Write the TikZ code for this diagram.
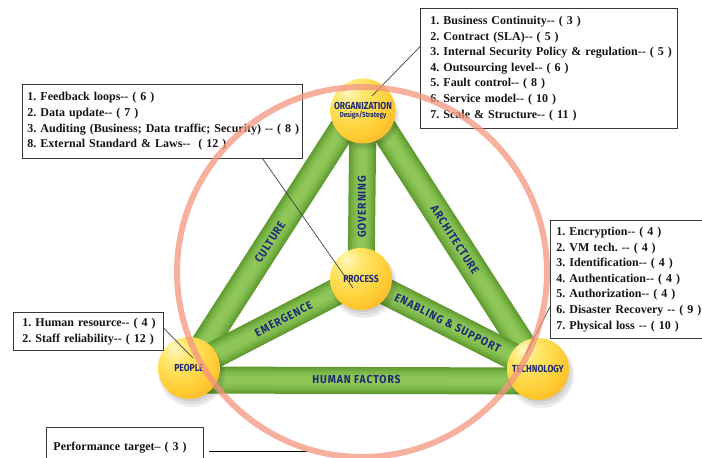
\documentclass[tikz,border=0pt]{standalone}
\usepackage{fontspec}
\setmainfont{Liberation Serif}
\newfontfamily\barfont[FakeStretch=0.9,LetterSpace=8]{Fira Sans}
\newfontfamily\ballfont[FakeStretch=0.84]{Fira Sans}
\usetikzlibrary{calc}

\definecolor{navy}{RGB}{30,42,118}
\definecolor{ringred}{RGB}{244,148,126}
\definecolor{barLo}{RGB}{92,152,44}
\definecolor{barHi}{RGB}{146,202,92}
\definecolor{boxline}{RGB}{55,55,55}
\definecolor{txt}{RGB}{20,20,20}

% yellow-orange sphere, highlight towards the upper left
\pgfdeclareradialshading{sunball}{\pgfpoint{-12bp}{16bp}}{%
  rgb(0bp)=(1,0.97,0.76);
  rgb(12bp)=(1,0.90,0.40);
  rgb(30bp)=(1,0.80,0.20);
  rgb(50bp)=(0.97,0.64,0.12);
  rgb(64bp)=(0.95,0.57,0.10);
  rgb(100bp)=(0.95,0.57,0.10)}

\pgfdeclarelayer{bars}
\pgfdeclarelayer{shadows}
\pgfsetlayers{bars,shadows,main}

% one unbreakable line of a list
\newcommand\entry[1]{\mbox{#1}}

\tikzset{
  ball/.style={circle, minimum size=62pt, inner sep=0pt, shade, shading=sunball,
    text=navy, font=\ballfont\bfseries\fontsize{10.2}{10}\selectfont, align=center},
  barlbl/.style={text=navy, font=\barfont\bfseries\fontsize{11.5}{12}\selectfont, inner sep=0pt},
  infobox/.style={draw=boxline, line width=0.9pt, anchor=north west, align=left,
    text=txt, inner ysep=0pt, font=\frenchspacing\bfseries\fontsize{12}{15.6}\selectfont},
  pointer/.style={draw=black!75, line width=0.7pt},
  ring/.style={draw=ringred, line width=6pt, opacity=0.75},
}

% a green tube between two points, lighter along its middle
\newcommand\greenbar[2]{%
  \foreach \w/\m in {27/0,25/18,22/36,19/52,16/66,12/80,8/92}{%
    \draw[barHi!\m!barLo, line width=\w pt] #1 -- #2;}}

\begin{document}
\begin{tikzpicture}[x=1pt, y=-1pt]
\useasboundingbox (0,0) rectangle (702,458);

% the four spheres
\node[ball, minimum size=65pt] (org) at (363,111)
  {ORGANIZATION\\[-2pt]{\fontsize{7.4}{7.5}\selectfont Design/Strategy}};
\node[ball] (proc)   at (361,279) {PROCESS};
\node[ball] (people) at (189,368) {PEOPLE};
\node[ball] (tech)   at (538,369) {TECHNOLOGY};

% soft shadows under the spheres
\begin{pgfonlayer}{shadows}
  \foreach \b in {org,proc,people,tech}{
    \fill[black, opacity=0.07] ([xshift=3pt,yshift=-6pt]\b.center) circle (33pt);
    \fill[black, opacity=0.07] ([xshift=3pt,yshift=-5pt]\b.center) circle (31pt);
    \fill[black, opacity=0.07] ([xshift=2pt,yshift=-4pt]\b.center) circle (29pt);
  }
\end{pgfonlayer}

% the tubes joining them
\begin{pgfonlayer}{bars}
  \greenbar{(people.center)}{([xshift=-9pt]org.center)}
  \greenbar{([xshift=9pt]org.center)}{(tech.center)}
  \greenbar{(org.center)}{(proc.center)}
  \greenbar{(people.center)}{(proc.center)}
  \greenbar{(proc.center)}{(tech.center)}
  \greenbar{([yshift=-12pt]people.center)}{([yshift=-12pt]tech.center)}
\end{pgfonlayer}

% tube labels
\path (people.center) -- node[barlbl, sloped, pos=0.49] {CULTURE} ([xshift=-9pt]org.center);
\path ([xshift=9pt]org.center) -- node[barlbl, sloped, pos=0.5] {ARCHITECTURE} (tech.center);
\path (org.center) -- node[barlbl, pos=0.57, rotate=90] {GOVERNING} (proc.center);
\path (people.center) -- node[barlbl, sloped, pos=0.55] {EMERGENCE} (proc.center);
\path (proc.center) -- node[barlbl, sloped, pos=0.49] {ENABLING \& SUPPORT} (tech.center);
\path ([yshift=-12pt]people.center) -- node[barlbl, pos=0.48, yshift=1pt] {HUMAN FACTORS} ([yshift=-12pt]tech.center);

% lists of factors
\node[infobox, inner xsep=10pt, text width=237pt, minimum height=120pt] (orgbox) at (420,8) {%
  \entry{1. Business Continuity-{}- ( 3 )}\\
  \entry{2. Contract (SLA)-{}- ( 5 )}\\
  \entry{3. Internal Security Policy \& regulation-{}- ( 5 )}\\
  \entry{4. Outsourcing level-{}- ( 6 )}\\
  \entry{5. Fault control-{}- ( 8 )}\\
  \entry{6. Service model-{}- ( 10 )}\\
  \entry{7. Scale \& Structure-{}- ( 11 )}};

\node[infobox, inner xsep=5pt, text width=270pt, minimum height=74pt] (leftbox) at (22,84) {%
  \entry{1. Feedback loops-{}- ( 6 )}\\
  \entry{2. Data update-{}- ( 7 )}\\
  \entry{3. Auditing (Business; Data traffic; Security) -{}- ( 8 )}\\
  \entry{8. External Standard \& Laws-{}- \ ( 12 )}};

\node[infobox, inner xsep=6pt, text width=158pt, minimum height=118pt] (techbox) at (550,220) {%
  \entry{1. Encryption-{}- ( 4 )}\\
  \entry{2. VM tech. -{}- ( 4 )}\\
  \entry{3. Identification-{}- ( 4 )}\\
  \entry{4. Authentication-{}- ( 4 )}\\
  \entry{5. Authorization-{}- ( 4 )}\\
  \entry{6. Disaster Recovery -{}- ( 9 )}\\
  \entry{7. Physical loss -{}- ( 10 )}};

\node[infobox, inner xsep=9pt, text width=132pt, minimum height=38pt] (peoplebox) at (13,312) {%
  \entry{1. Human resource-{}- ( 4 )}\\
  \entry{2. Staff reliability-{}- ( 12 )}};

\node[infobox, inner xsep=7pt, text width=143pt, minimum height=40pt] (perfbox) at (46,427) {%
  \entry{Performance target-- ( 3 )}};

% leader lines from the lists
\coordinate (orgtip)    at (372,96);
\coordinate (proctip)   at (353,288);
\coordinate (peopletip) at (193,358);
\coordinate (techtip)   at (526,354);
\coordinate (perfend)   at (308,451);
\draw[pointer] ($(orgbox.north west)!0.32!(orgbox.south west)$) -- (orgtip);
\draw[pointer] ($(leftbox.south west)!0.857!(leftbox.south east)$) -- (proctip);
\draw[pointer] ($(peoplebox.north east)!0.42!(peoplebox.south east)$) -- (peopletip);
\draw[pointer] ($(techbox.north west)!0.73!(techbox.south west)$) -- (techtip);
\draw[black, line width=1pt] ($(perfbox.east |- perfend)+(5pt,0)$) -- (perfend);

% the enclosing ring
\coordinate (ringc) at (362,272);
\draw[ring] (ringc) circle (185pt);
\end{tikzpicture}
\end{document}
